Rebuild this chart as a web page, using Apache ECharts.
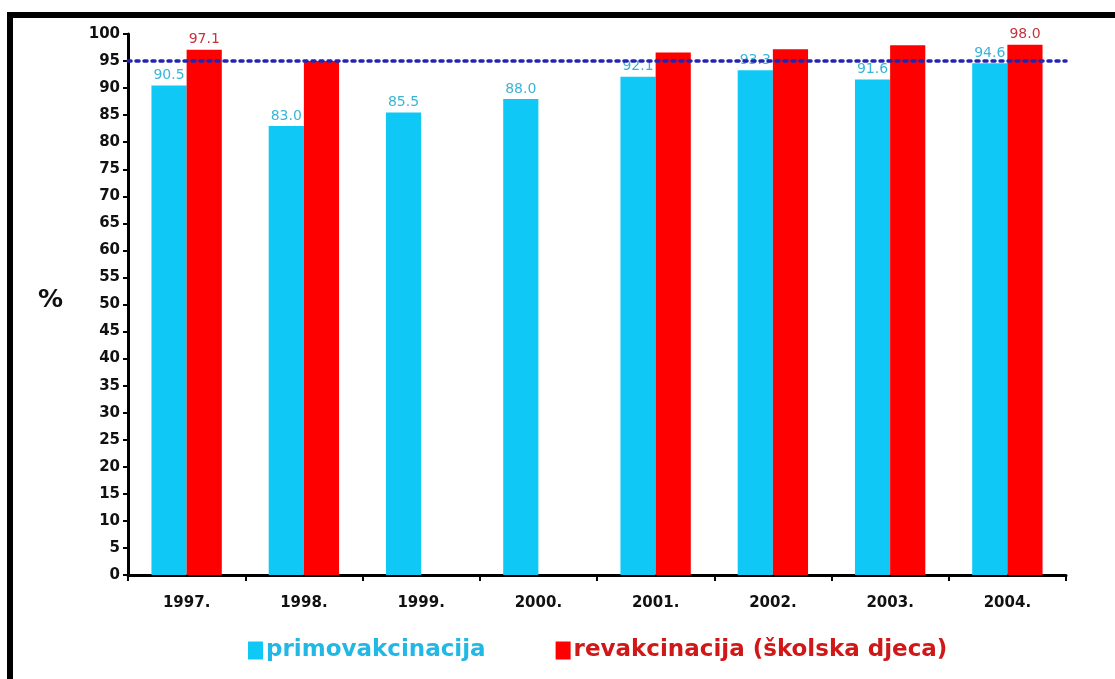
<!DOCTYPE html>
<html>
<head>
<meta charset="utf-8">
<script src="https://cdn.jsdelivr.net/npm/echarts@6/dist/echarts.min.js"></script>
<style>
  html, body { margin: 0; padding: 0; background: #fff; }
  #chart { width: 1115px; height: 679px; }
</style>
</head>
<body>
<div id="chart"></div>
<script>
// Vaccination coverage (%) by year
const years = ['1997.', '1998.', '1999.', '2000.', '2001.', '2002.', '2003.', '2004.'];
const primovakcinacija = [90.5, 83.0, 85.5, 88.0, 92.1, 93.3, 91.6, 94.6];
const revakcinacija = [97.1, 95.0, null, null, 96.6, 97.2, 97.9, 98.0];
// which revaccination bars carry a value label
const revakcinacijaLabelled = [true, false, false, false, false, false, false, true];
const targetLevel = 95;
const yTicks = { min: 0, max: 100, interval: 5 };

const chart = echarts.init(document.getElementById('chart'), null, { renderer: 'canvas' });

const axisFont = { fontFamily: 'DejaVu Sans', fontWeight: 'bold', fontSize: 15, color: '#111' };

chart.setOption({
  animation: false,
  backgroundColor: '#fff',
  graphic: [
    {
      type: 'rect',
      shape: { x: 10, y: 15, width: 1300, height: 900 },
      style: { fill: 'none', stroke: '#000', lineWidth: 6 },
      z: 100
    },
    {
      type: 'text',
      left: 38, top: 288,
      style: { text: '%', font: 'bold 25px "DejaVu Sans"', fill: '#111' }
    }
  ],
  grid: { left: 128, right: 49, top: 34, bottom: 104, containLabel: false },
  legend: {
    top: 634,
    left: 243,
    itemWidth: 15, itemHeight: 18,
    itemGap: 70,
    icon: 'rect',
    textStyle: { fontFamily: 'DejaVu Sans', fontWeight: 'bold', fontSize: 23, padding: [0, 0, 0, -2] },
    data: [
      { name: 'primovakcinacija', textStyle: { color: '#22b8e6' } },
      { name: 'revakcinacija (školska djeca)', textStyle: { color: '#d01818' } }
    ]
  },
  xAxis: {
    type: 'category',
    data: years,
    axisLine: { lineStyle: { color: '#000', width: 3 } },
    axisTick: { show: true, length: 6, lineStyle: { color: '#000', width: 2 } },
    axisLabel: Object.assign({ margin: 21 }, axisFont),
    splitLine: { show: false }
  },
  yAxis: {
    type: 'value',
    min: yTicks.min, max: yTicks.max, interval: yTicks.interval,
    axisLine: { show: true, lineStyle: { color: '#000', width: 3 } },
    axisTick: { show: true, length: 5, lineStyle: { color: '#000', width: 2 } },
    axisLabel: Object.assign({ margin: 8 }, axisFont),
    splitLine: { show: false }
  },
  series: [
    {
      name: 'primovakcinacija',
      type: 'bar',
      data: primovakcinacija,
      barGap: '0%',
      barCategoryGap: '40%',
      itemStyle: { color: '#10c8f6' },
      label: {
        show: true, position: 'top', distance: 3,
        formatter: p => p.value.toFixed(1),
        fontFamily: 'DejaVu Sans', fontSize: 14, color: '#3ab4d6'
      },
      markLine: {
        silent: true,
        symbol: 'none',
        label: { show: false },
        lineStyle: { color: '#2424b0', type: [3, 5], width: 3.5, cap: 'round' },
        data: [{ yAxis: targetLevel }]
      }
    },
    {
      name: 'revakcinacija (školska djeca)',
      type: 'bar',
      data: revakcinacija.map((v, i) => ({
        value: v,
        label: { show: revakcinacijaLabelled[i] }
      })),
      barGap: '0%',
      barCategoryGap: '40%',
      itemStyle: { color: '#ff0000' },
      label: {
        position: 'top', distance: 3,
        formatter: p => p.value.toFixed(1),
        fontFamily: 'DejaVu Sans', fontSize: 14, color: '#c8323c'
      }
    }
  ]
});
</script>
</body>
</html>
